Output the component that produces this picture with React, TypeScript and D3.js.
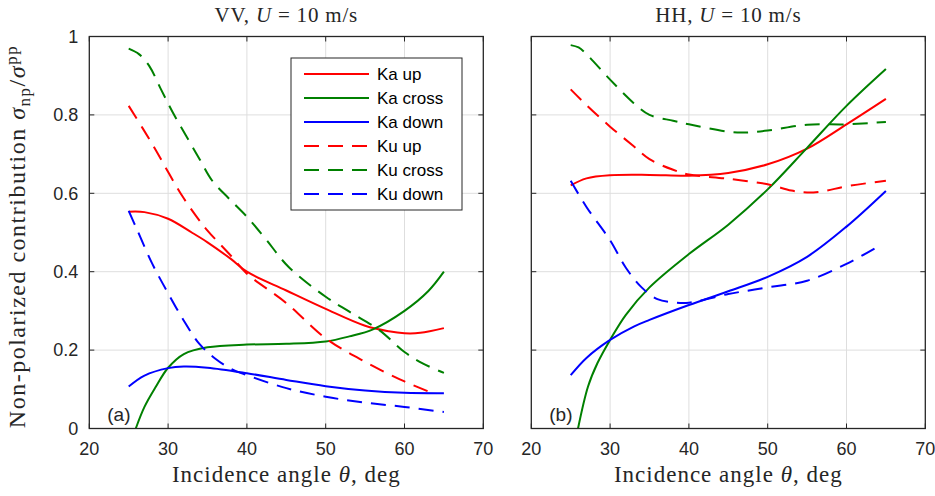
import React from "react";
import * as d3 from "d3";

type Pt = [number, number];

const xTicks = [20, 30, 40, 50, 60, 70];
const yTicks = [0, 0.2, 0.4, 0.6, 0.8, 1];
const yTickLabels = ["0", "0.2", "0.4", "0.6", "0.8", "1"];
const seriesNames = ["Ka up", "Ka cross", "Ka down", "Ku up", "Ku cross", "Ku down"];
const panelTags = ["(a)", "(b)"];
const panelPols = ["VV", "HH"];

// VV panel
const vvKaUp: Pt[] = [[25, 0.553], [27, 0.552], [30, 0.535], [33, 0.5], [35, 0.475], [38, 0.432], [40, 0.4], [45, 0.352], [50, 0.305], [55, 0.262], [58, 0.248], [60, 0.243], [62, 0.244], [65, 0.256]];
const vvKaCross: Pt[] = [[25.9, 0], [27, 0.055], [28.4, 0.105], [30, 0.155], [32, 0.19], [35, 0.207], [40, 0.214], [45, 0.216], [50, 0.222], [53, 0.235], [56, 0.253], [60, 0.3], [63, 0.35], [65, 0.4]];
const vvKaDown: Pt[] = [[25, 0.107], [27, 0.135], [30, 0.154], [32, 0.158], [35, 0.155], [40, 0.141], [45, 0.124], [50, 0.108], [55, 0.097], [60, 0.091], [65, 0.09]];
const vvKuUp: Pt[] = [[25, 0.823], [26.8, 0.765], [28.5, 0.708], [30.1, 0.651], [31.8, 0.593], [33.7, 0.538], [35, 0.505], [38, 0.44], [40, 0.395], [45, 0.32], [50, 0.23], [55, 0.17], [60, 0.12], [64, 0.087]];
const vvKuCross: Pt[] = [[25, 0.969], [26.3, 0.955], [27.6, 0.925], [29.1, 0.865], [30.6, 0.806], [32.3, 0.746], [34, 0.687], [35.6, 0.632], [37.8, 0.585], [40.1, 0.538], [42.4, 0.483], [45.3, 0.412], [50, 0.336], [53, 0.298], [56.8, 0.251], [60, 0.195], [62.3, 0.166], [65, 0.142]];
const vvKuDown: Pt[] = [[25, 0.555], [26, 0.51], [28, 0.42], [30, 0.345], [32, 0.275], [34, 0.215], [36, 0.178], [38, 0.152], [40, 0.136], [45, 0.103], [50, 0.081], [55, 0.066], [60, 0.055], [65, 0.042]];

// HH panel
const hhKaUp: Pt[] = [[25, 0.62], [27, 0.638], [30, 0.646], [35, 0.647], [40, 0.645], [45, 0.652], [50, 0.674], [55, 0.714], [60, 0.776], [65, 0.841]];
const hhKaCross: Pt[] = [[25.93, 0], [27.2, 0.107], [28.4, 0.167], [30, 0.226], [32, 0.29], [35, 0.36], [40, 0.445], [45, 0.52], [50, 0.61], [55, 0.716], [60, 0.823], [65, 0.917]];
const hhKaDown: Pt[] = [[25, 0.136], [27, 0.18], [30, 0.226], [33, 0.26], [35, 0.277], [40, 0.315], [45, 0.35], [50, 0.387], [55, 0.438], [60, 0.515], [65, 0.606]];
const hhKuUp: Pt[] = [[25, 0.865], [27, 0.825], [30, 0.77], [33, 0.72], [35, 0.687], [38, 0.66], [40, 0.648], [45, 0.637], [50, 0.623], [53, 0.607], [55, 0.602], [57, 0.605], [60, 0.618], [65, 0.632]];
const hhKuCross: Pt[] = [[25, 0.978], [26, 0.972], [27, 0.955], [30, 0.89], [33, 0.83], [35, 0.8], [38, 0.785], [40, 0.776], [45, 0.757], [47, 0.755], [50, 0.76], [55, 0.775], [60, 0.776], [65, 0.782]];
const hhKuDown: Pt[] = [[25, 0.632], [27, 0.565], [30, 0.48], [32, 0.41], [34, 0.36], [36, 0.33], [38, 0.322], [40, 0.321], [45, 0.343], [50, 0.36], [55, 0.377], [60, 0.42], [64.5, 0.47]];

const panelData: Pt[][][] = [
  [vvKaUp, vvKaCross, vvKaDown, vvKuUp, vvKuCross, vvKuDown],
  [hhKaUp, hhKaCross, hhKaDown, hhKuUp, hhKuCross, hhKuDown],
];

const seriesColor = ["#ff0000", "#008000", "#0000ff", "#ff0000", "#008000", "#0000ff"];
const seriesDash = [null, null, null, "15 9", "15 9", "15 9"];

const W = 935;
const H = 496;
const TOP = 36.5;
const BOTTOM = 428.5;
const panelLeft = [89.3, 531.3];
const PW = 394;
const SANS = "'Liberation Sans', Arial, Helvetica, sans-serif";
const SERIF = "'Liberation Serif', 'Times New Roman', serif";
const AX = "#262626";
const GRID = "#dedede";

function Panel({ idx }: { idx: number }) {
  const x0 = panelLeft[idx];
  const x = d3.scaleLinear().domain([20, 70]).range([x0, x0 + PW]);
  const y = d3.scaleLinear().domain([0, 1]).range([BOTTOM, TOP]);
  const line = d3
    .line<Pt>()
    .x((d) => x(d[0]))
    .y((d) => y(d[1]))
    .curve(d3.curveCatmullRom.alpha(0.5));
  const cx = x0 + PW / 2;
  return (
    <g>
      {xTicks.slice(1, -1).map((t) => (
        <line key={"gx" + t} x1={x(t)} x2={x(t)} y1={TOP} y2={BOTTOM} stroke={GRID} strokeWidth={1} />
      ))}
      {yTicks.slice(1, -1).map((t) => (
        <line key={"gy" + t} x1={x0} x2={x0 + PW} y1={y(t)} y2={y(t)} stroke={GRID} strokeWidth={1} />
      ))}
      {panelData[idx].map((s, i) => (
        <path
          key={"s" + i}
          d={line(s) || ""}
          fill="none"
          stroke={seriesColor[i]}
          strokeWidth={2}
          strokeDasharray={seriesDash[i] || undefined}
        />
      ))}
      {xTicks.map((t) => (
        <g key={"tx" + t}>
          <line x1={x(t)} x2={x(t)} y1={BOTTOM} y2={BOTTOM - 5} stroke={AX} strokeWidth={1} />
          <line x1={x(t)} x2={x(t)} y1={TOP} y2={TOP + 5} stroke={AX} strokeWidth={1} />
          <text x={x(t)} y={455} textAnchor="middle" fontFamily={SANS} fontSize={18} fill="#262626">
            {t}
          </text>
        </g>
      ))}
      {yTicks.map((t, i) => (
        <g key={"ty" + t}>
          <line x1={x0} x2={x0 + 5} y1={y(t)} y2={y(t)} stroke={AX} strokeWidth={1} />
          <line x1={x0 + PW} x2={x0 + PW - 5} y1={y(t)} y2={y(t)} stroke={AX} strokeWidth={1} />
          {idx === 0 && (
            <text x={x0 - 11} y={y(t)} dy="0.35em" textAnchor="end" fontFamily={SANS} fontSize={18} fill="#262626">
              {yTickLabels[i]}
            </text>
          )}
        </g>
      ))}
      <rect x={x0} y={TOP} width={PW} height={BOTTOM - TOP} fill="none" stroke={AX} strokeWidth={1.3} />
      <text x={x0 + 18} y={421} fontFamily={SANS} fontSize={19} fill="#262626">
        {panelTags[idx]}
      </text>
      <text x={cx} y={22} textAnchor="middle" fontFamily={SERIF} fontSize={21} letterSpacing={0.8} fill="#262626">
        {panelPols[idx] + ", "}
        <tspan fontStyle="italic">U</tspan>
        {" = 10 m/s"}
      </text>
      <text x={cx} y={482} textAnchor="middle" fontFamily={SERIF} fontSize={23} letterSpacing={1} fill="#262626">
        {"Incidence angle "}
        <tspan fontStyle="italic">θ</tspan>
        {", deg"}
      </text>
    </g>
  );
}

function Legend() {
  const lx = 291;
  const ly = 58;
  return (
    <g>
      <rect x={lx} y={ly} width={171} height={152} fill="#ffffff" stroke={AX} strokeWidth={1} />
      {seriesNames.map((n, i) => {
        const ry = 74 + i * 24;
        return (
          <g key={n}>
            <line
              x1={304}
              x2={369}
              y1={ry}
              y2={ry}
              stroke={seriesColor[i]}
              strokeWidth={2}
              strokeDasharray={seriesDash[i] || undefined}
            />
            <text x={377} y={ry} dy="0.35em" fontFamily={SANS} fontSize={17} fill="#000">
              {n}
            </text>
          </g>
        );
      })}
    </g>
  );
}

export default function App() {
  return (
    <svg width={W} height={H} style={{ position: "absolute", left: 0, top: 0, background: "#fff" }}>
      <rect x={0} y={0} width={W} height={H} fill="#fff" />
      <Panel idx={0} />
      <Panel idx={1} />
      <Legend />
      <text
        transform={`translate(25, ${(TOP + BOTTOM) / 2 + 4}) rotate(-90)`}
        textAnchor="middle"
        fontFamily={SERIF}
        fontSize={24}
        letterSpacing={1.5}
        fill="#262626"
      >
        {"Non-polarized contribution "}
        <tspan fontStyle="italic">σ</tspan>
        <tspan fontSize={17} dy={5}>np</tspan>
        <tspan dy={-5}>/</tspan>
        <tspan fontStyle="italic">σ</tspan>
        <tspan fontSize={17} dy={-8}>pp</tspan>
      </text>
    </svg>
  );
}
